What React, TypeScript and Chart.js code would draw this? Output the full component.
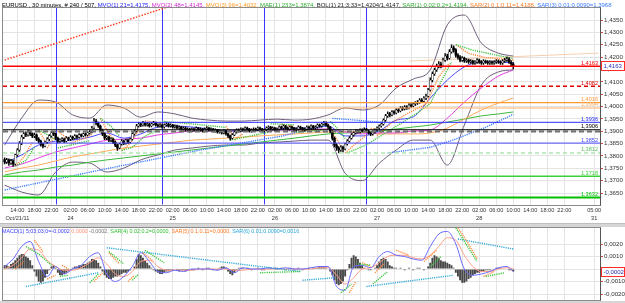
import React, { useEffect, useRef } from "react";
import { Chart, registerables } from "chart.js";

Chart.register(...registerables);

// ------------------------------------------------------------------ data
const FIRST_OPEN = 1.3785;
const LAST_BAR = 239;

const closes = [
  1.3776,1.3784,1.3772,1.3780,1.3768,1.3804,1.3824,1.3852,1.3876,1.3889,
  1.3885,1.3897,1.3889,1.3881,1.3885,1.3868,1.3860,1.3848,1.3840,1.3856,
  1.3868,1.3881,1.3893,1.3889,1.3872,1.3860,1.3864,1.3868,1.3860,1.3872,
  1.3868,1.3876,1.3872,1.3881,1.3876,1.3885,1.3881,1.3889,1.3885,1.3893,
  1.3897,1.3913,1.3941,1.3933,1.3921,1.3905,1.3889,1.3872,1.3876,1.3864,
  1.3868,1.3856,1.3844,1.3832,1.3848,1.3860,1.3852,1.3864,1.3856,1.3868,
  1.3889,1.3901,1.3921,1.3929,1.3925,1.3933,1.3925,1.3929,1.3921,1.3929,
  1.3933,1.3925,1.3921,1.3925,1.3917,1.3925,1.3929,1.3921,1.3925,1.3917,
  1.3921,1.3913,1.3917,1.3909,1.3913,1.3905,1.3909,1.3901,1.3909,1.3905,
  1.3913,1.3905,1.3909,1.3901,1.3909,1.3913,1.3905,1.3909,1.3901,1.3905,
  1.3897,1.3901,1.3893,1.3901,1.3889,1.3881,1.3872,1.3885,1.3897,1.3905,
  1.3901,1.3909,1.3905,1.3913,1.3909,1.3901,1.3905,1.3909,1.3905,1.3913,
  1.3909,1.3901,1.3905,1.3913,1.3917,1.3909,1.3913,1.3905,1.3909,1.3917,
  1.3913,1.3921,1.3913,1.3909,1.3917,1.3913,1.3905,1.3909,1.3917,1.3913,
  1.3905,1.3909,1.3917,1.3913,1.3921,1.3913,1.3917,1.3925,1.3921,1.3929,
  1.3933,1.3925,1.3917,1.3901,1.3872,1.3844,1.3832,1.3824,1.3836,1.3828,
  1.3848,1.3860,1.3872,1.3885,1.3893,1.3901,1.3897,1.3905,1.3901,1.3909,
  1.3901,1.3893,1.3889,1.3897,1.3905,1.3913,1.3921,1.3929,1.3945,1.3962,
  1.3970,1.3966,1.3978,1.3974,1.3986,1.3982,1.3994,1.3990,1.3998,1.3994,
  1.4006,1.4002,1.4010,1.4014,1.4018,1.4026,1.4022,1.4034,1.4042,1.4067,
  1.4107,1.4132,1.4148,1.4164,1.4172,1.4164,1.4188,1.4204,1.4196,1.4221,
  1.4237,1.4229,1.4208,1.4200,1.4188,1.4196,1.4184,1.4188,1.4180,1.4184,
  1.4176,1.4180,1.4188,1.4180,1.4176,1.4184,1.4180,1.4176,1.4180,1.4176,
  1.4180,1.4184,1.4180,1.4176,1.4184,1.4188,1.4192,1.4180,1.4172,1.4163,
];

const highs = [
  1.3792,1.3790,1.3788,1.3786,1.3784,1.3808,1.3830,1.3858,1.3884,1.3896,
  1.3898,1.3905,1.3902,1.3894,1.3892,1.3889,1.3874,1.3864,1.3852,1.3860,
  1.3874,1.3886,1.3900,1.3898,1.3892,1.3876,1.3870,1.3874,1.3872,1.3878,
  1.3876,1.3882,1.3880,1.3886,1.3884,1.3890,1.3889,1.3894,1.3893,1.3898,
  1.3903,1.3920,1.3952,1.3948,1.3937,1.3925,1.3909,1.3893,1.3882,1.3880,
  1.3874,1.3872,1.3860,1.3848,1.3852,1.3866,1.3864,1.3868,1.3868,1.3872,
  1.3894,1.3906,1.3928,1.3936,1.3934,1.3940,1.3937,1.3935,1.3933,1.3934,
  1.3940,1.3937,1.3930,1.3931,1.3929,1.3930,1.3935,1.3933,1.3930,1.3928,
  1.3926,1.3925,1.3922,1.3920,1.3918,1.3917,1.3914,1.3912,1.3914,1.3913,
  1.3918,1.3916,1.3914,1.3912,1.3914,1.3919,1.3916,1.3914,1.3912,1.3910,
  1.3908,1.3906,1.3904,1.3906,1.3904,1.3892,1.3884,1.3890,1.3902,1.3910,
  1.3910,1.3914,1.3913,1.3918,1.3917,1.3912,1.3910,1.3914,1.3913,1.3918,
  1.3917,1.3912,1.3910,1.3918,1.3922,1.3920,1.3918,1.3916,1.3914,1.3922,
  1.3921,1.3926,1.3924,1.3918,1.3922,1.3921,1.3916,1.3914,1.3922,1.3921,
  1.3916,1.3914,1.3922,1.3921,1.3926,1.3924,1.3922,1.3930,1.3929,1.3934,
  1.3940,1.3937,1.3929,1.3920,1.3904,1.3876,1.3850,1.3838,1.3842,1.3840,
  1.3852,1.3866,1.3878,1.3890,1.3898,1.3906,1.3906,1.3910,1.3910,1.3914,
  1.3912,1.3904,1.3897,1.3902,1.3910,1.3918,1.3926,1.3934,1.3950,1.3968,
  1.3978,1.3976,1.3984,1.3984,1.3992,1.3992,1.4000,1.4000,1.4004,1.4004,
  1.4012,1.4012,1.4016,1.4020,1.4024,1.4032,1.4032,1.4040,1.4050,1.4074,
  1.4116,1.4140,1.4156,1.4172,1.4182,1.4180,1.4196,1.4214,1.4212,1.4230,
  1.4250,1.4246,1.4234,1.4214,1.4206,1.4202,1.4200,1.4194,1.4192,1.4190,
  1.4188,1.4186,1.4194,1.4192,1.4186,1.4190,1.4188,1.4186,1.4186,1.4185,
  1.4186,1.4190,1.4189,1.4186,1.4190,1.4195,1.4200,1.4198,1.4186,1.4178,
];

const lows = [
  1.3768,1.3770,1.3762,1.3766,1.3758,1.3764,1.3798,1.3818,1.3846,1.3870,
  1.3878,1.3880,1.3882,1.3874,1.3874,1.3862,1.3852,1.3840,1.3832,1.3836,
  1.3850,1.3862,1.3876,1.3882,1.3866,1.3852,1.3854,1.3858,1.3854,1.3856,
  1.3862,1.3862,1.3866,1.3868,1.3870,1.3872,1.3876,1.3877,1.3880,1.3881,
  1.3888,1.3893,1.3910,1.3926,1.3915,1.3898,1.3882,1.3866,1.3866,1.3858,
  1.3858,1.3850,1.3838,1.3822,1.3828,1.3844,1.3846,1.3848,1.3850,1.3852,
  1.3864,1.3884,1.3896,1.3916,1.3918,1.3920,1.3920,1.3920,1.3916,1.3917,
  1.3924,1.3920,1.3916,1.3916,1.3912,1.3912,1.3920,1.3916,1.3916,1.3912,
  1.3912,1.3908,1.3908,1.3904,1.3904,1.3900,1.3900,1.3896,1.3897,1.3900,
  1.3901,1.3900,1.3900,1.3896,1.3897,1.3904,1.3900,1.3900,1.3896,1.3896,
  1.3892,1.3892,1.3888,1.3889,1.3884,1.3874,1.3864,1.3868,1.3882,1.3892,
  1.3896,1.3897,1.3900,1.3901,1.3904,1.3896,1.3896,1.3900,1.3900,1.3901,
  1.3904,1.3896,1.3896,1.3901,1.3908,1.3904,1.3904,1.3900,1.3900,1.3904,
  1.3908,1.3908,1.3908,1.3904,1.3904,1.3908,1.3900,1.3900,1.3904,1.3908,
  1.3900,1.3900,1.3904,1.3908,1.3908,1.3908,1.3908,1.3912,1.3916,1.3916,
  1.3924,1.3920,1.3910,1.3894,1.3864,1.3836,1.3822,1.3812,1.3818,1.3816,
  1.3824,1.3844,1.3856,1.3868,1.3880,1.3888,1.3892,1.3892,1.3896,1.3897,
  1.3896,1.3888,1.3882,1.3884,1.3892,1.3900,1.3908,1.3916,1.3924,1.3940,
  1.3956,1.3958,1.3962,1.3968,1.3970,1.3976,1.3978,1.3984,1.3986,1.3988,
  1.3990,1.3996,1.3998,1.4004,1.4008,1.4012,1.4016,1.4018,1.4028,1.4038,
  1.4062,1.4100,1.4126,1.4142,1.4156,1.4156,1.4160,1.4182,1.4188,1.4192,
  1.4216,1.4220,1.4200,1.4192,1.4180,1.4182,1.4178,1.4178,1.4174,1.4174,
  1.4170,1.4170,1.4174,1.4174,1.4170,1.4170,1.4174,1.4170,1.4170,1.4170,
  1.4170,1.4174,1.4174,1.4170,1.4170,1.4178,1.4182,1.4174,1.4162,1.4152,
];

// indicator lines, one value every 8 bars (last value = last bar)
const INDICATOR_STEP = 8;
const maBlue21 = [1.3771,1.3804,1.3844,1.3860,1.3864,1.3876,1.3893,1.3872,1.3889,1.3917,1.3921,1.3917,1.3909,1.3901,1.3901,1.3905,1.3909,1.3913,1.3913,1.3921,1.3881,1.3881,1.3901,1.3945,1.3958,1.4034,1.4107,1.4160,1.4180,1.4180,1.4176];
const maMagenta48 = [1.3751,1.3767,1.3792,1.3816,1.3832,1.3848,1.3864,1.3868,1.3872,1.3885,1.3893,1.3901,1.3901,1.3901,1.3905,1.3905,1.3905,1.3905,1.3909,1.3909,1.3897,1.3889,1.3893,1.3893,1.3901,1.3905,1.3953,1.4018,1.4075,1.4123,1.4148];
const maOrange96 = [1.3735,1.3751,1.3763,1.3780,1.3796,1.3808,1.3820,1.3832,1.3840,1.3848,1.3856,1.3864,1.3868,1.3872,1.3876,1.3881,1.3885,1.3889,1.3893,1.3897,1.3897,1.3897,1.3889,1.3889,1.3889,1.3893,1.3913,1.3949,1.3986,1.4014,1.4034];
const maeGreen233 = [1.3723,1.3735,1.3743,1.3755,1.3763,1.3775,1.3784,1.3792,1.3800,1.3808,1.3816,1.3824,1.3832,1.3840,1.3848,1.3856,1.3864,1.3872,1.3881,1.3889,1.3893,1.3897,1.3901,1.3909,1.3917,1.3925,1.3937,1.3949,1.3962,1.3970,1.3978];
const bbUpper = [1.3844,1.3953,1.4026,1.4018,1.3966,1.3953,1.4006,1.3994,1.3957,1.3978,1.3970,1.3953,1.3945,1.3941,1.3941,1.3945,1.3949,1.3945,1.3949,1.3966,1.3994,1.3986,1.4006,1.4075,1.4111,1.4148,1.4330,1.4370,1.4257,1.4216,1.4204];
const bbLower = [1.3682,1.3654,1.3642,1.3735,1.3775,1.3771,1.3735,1.3751,1.3784,1.3804,1.3824,1.3832,1.3840,1.3844,1.3844,1.3852,1.3856,1.3860,1.3864,1.3864,1.3730,1.3700,1.3770,1.3824,1.3864,1.3864,1.3763,1.3925,1.4087,1.4140,1.4148];

// parabolic SAR segments: [bar, price]
const sar1Segments = [
  [[5,1.3758],[10,1.3782],[14,1.3836]],
  [[16,1.3905],[20,1.3886],[24,1.3866]],
  [[25,1.3832],[32,1.3846],[40,1.3862]],
  [[45,1.3952],[50,1.3920],[54,1.3880]],
  [[55,1.3822],[60,1.3835],[66,1.3880],[72,1.3905]],
  [[74,1.3940],[90,1.3928],[104,1.3915]],
  [[106,1.3864],[115,1.3880],[124,1.3896]],
  [[125,1.3930],[136,1.3926]],
  [[137,1.3896],[150,1.3905]],
  [[153,1.3940],[156,1.3915],[160,1.3870]],
  [[161,1.3812],[170,1.3845],[178,1.3888],[186,1.3930],[194,1.3975],[200,1.4012],[205,1.4100],[210,1.4180]],
  [[212,1.4250],[220,1.4228],[230,1.4210],[239,1.4194]],
];
const sar2Segments = [
  [[5,1.3758],[9,1.3795],[13,1.3855]],
  [[16,1.3905],[19,1.3860]],
  [[20,1.3832],[23,1.3872]],
  [[25,1.3900],[30,1.3868]],
  [[31,1.3852],[38,1.3872],[41,1.3888]],
  [[45,1.3952],[49,1.3890],[53,1.3850]],
  [[55,1.3822],[59,1.3850],[63,1.3905]],
  [[66,1.3942],[74,1.3932]],
  [[104,1.3920],[107,1.3885]],
  [[108,1.3864],[112,1.3890]],
  [[130,1.3928],[136,1.3918]],
  [[138,1.3900],[146,1.3906]],
  [[151,1.3942],[155,1.3880],[158,1.3842]],
  [[160,1.3812],[165,1.3850],[170,1.3884]],
  [[172,1.3912],[174,1.3908]],
  [[175,1.3882],[182,1.3935],[190,1.3975],[198,1.4010],[204,1.4120],[209,1.4175]],
  [[212,1.4250],[218,1.4215],[226,1.4198],[239,1.4188]],
];
const sar3Segments = [
  [[0,1.3662],[46,1.3745],[92,1.3824],[130,1.3880],[152,1.3925]],
  [[154,1.3952],[165,1.3945],[178,1.3935]],
  [[180,1.3812],[200,1.3835],[210,1.3862],[225,1.3912],[239,1.3968]],
];

// hand-drawn objects
const levelPrices = [1.4163, 1.4082, 1.4016, 1.3994, 1.3936, 1.3906, 1.3899, 1.3852, 1.3812, 1.3718, 1.3632];
const trendRed = [[0, 1.4188], [82, 1.4418]];
const trendPeach = [[190, 1.4184], [279, 1.4216]];
const daySeparatorBars = [24, 74, 122, 170];
const lastPrice = 1.4163;

// MACD sub-window (values in pips = 0.0001)
const MACD_STEP = 4;
const macdHistPips = [
  3,3,2, 4,5,7,9,11,12,12,10,9,7, 3,-2,-6,-10,-11,-10,-7,-4,-1, 2,3,1,
  -3,-5,-5,-4,-3,-2,-1, 1,2,2,3,3,4,4, 5,6,8,8,7,5,
  2,-2,-5,-7,-8,-8,-7,-6,-6,-5,-4,-3,-3, -2,-1,0,2, 8,12,11,9,7,5,3,
  1,-1,-2,-3,-4,-4,-3,-2,-2,
  -1,-1,0,-1,-2,-1,-1,-2,-1,0,-1,-1,0,1,0,-1,0,1,1,0,-1,0,-1,
  1,2,2,1, -2,-4,-5,-3,-1,
  1,1,1,0,1,0,-1,0,0,1,0,-1,-1,0,1,1,0,1,1,0,1,0,-1,0,1,0,-1,0,1,0,-1,
  0,0,1,0,1,1,1,2,2,2,1,0,-2, -5,-9,-12,-13,-12,-10,-6,
  -1,4,9,11,10,8,5,3, 1,0,-1,-1,0,1, 3,6,8,9,8,6,
  3,2,1,1,0,1,0,-1,0,1,0,-1,0,1,1,0,-1,0,2,5,
  9,11,10,9,7, 6,6,5,4,3, 1,-3,-6,-9,-11,-11,-10,-8,-7,-5,
  -4,-3,-3,-2,-2,-1,-1,-1,0,0,1,1,1,0,0,0,-1,-1,-2,
];
const macdLinePips = [2,8,18,22,6,-6,2,-4,0,3,10,13,-4,-10,-6,2,13,6,-2,-3,-1,-2,0,0,0,-1,1,-3,1,0,0,1,0,1,0,0,1,2,2,-14,-17,2,3,1,10,14,11,10,8,7,18,28,30,20,0,-5,-4,-2,1,2,-2];
const macdSignalPips = [0,3,9,16,15,7,2,-1,-1,1,5,9,4,-4,-6,-2,6,7,2,-1,-1,-1,-1,0,0,0,0,-1,-1,0,0,0,0,0,0,0,0,1,1,-5,-12,-7,0,1,5,10,11,11,9,8,11,18,25,23,11,2,-2,-2,0,1,0];
const sar4Segments = [
  [[10,18],[16,12],[22,3]], [[26,-6],[30,-5]], [[40,-11],[44,-4]], [[49,14],[56,4]],
  [[60,-9],[63,-4]], [[66,15],[75,5]], [[120,-3],[139,-2]], [[158,-19],[163,-12]],
  [[166,4],[172,3]], [[173,-12],[180,-2]], [[200,2],[205,10]], [[212,33],[222,6]], [[226,-6],[235,-3]],
];
const sar5Segments = [
  [[5,0],[9,6]], [[14,23],[18,14]], [[20,-8],[24,-5]], [[27,3],[30,0]], [[42,-10],[46,-3]],
  [[49,13],[54,4]], [[58,-10],[61,-5]], [[65,13],[70,6]], [[162,-19],[165,-10]], [[168,5],[172,2]],
  [[174,-3],[178,4]], [[184,15],[190,11]], [[197,6],[203,15]], [[213,33],[218,20],[222,8]], [[225,-6],[230,-2]],
];
const sar6Segments = [
  [[10,-14],[44,-3]], [[48,17],[139,-2]], [[140,-9],[155,-7]], [[170,-14],[211,-5]], [[213,24],[239,16]],
];
const lastMacd = -0.0002;

// axis ticks
const timeTickBars = [6,14,22,31,39,47,55,63,71,79,87,95,103,111,119,127,135,143,151,159,167,175,183,191,199,207,215,223,231,239,247,255,263,277];
const timeLabels = [
  "14:00","18:00","22:00",
  "02:00","06:00","10:00","14:00","18:00","22:00",
  "02:00","06:00","10:00","14:00","18:00","22:00",
  "02:00","06:00","10:00","14:00","18:00","22:00",
  "02:00","06:00","10:00","14:00","18:00","22:00",
  "02:00","06:00","10:00","14:00","18:00","22:00",
  "05:00",
];
const dateLabels = ["Oct/21/11","","","24","","","","","","25","","","","","","26","","","","","","27","","","","","","28","","","","","","31"];
const priceTicks = [1.3650,1.3700,1.3750,1.3800,1.3850,1.3900,1.3950,1.4000,1.4050,1.4100,1.4150,1.4200,1.4250,1.4300,1.4350];
const macdTicks = [0.002, 0.001, 0, -0.001, -0.002];

const mainTitleParts = [
  ["EURUSD , 30 minutes, # 240 / 507, ", "#000000"],
  ["MVO(1) 21=1,4175, ", "#2323ff"],
  ["MVO(2) 48=1,4145, ", "#d22ad2"],
  ["MVO(3) 96=1,4032, ", "#ff9a22"],
  ["MAE(1) 233=1,3874, ", "#2fae2f"],
  ["BOL(1) 21;3;33=1,4204/1,4147, ", "#222222"],
  ["SAR(1) 0.02;0.2=1,4194, ", "#2fae2f"],
  ["SAR(2) 0.1;0.11=1,4188, ", "#ff7a22"],
  ["SAR(3) 0.01;0.0090=1,3968", "#3a78ff"],
];
const subTitleParts = [
  ["MACD(1) 5;03;03;0=-0,0002 ", "#3d3dff"],
  ["0,0000 ", "#ff8f7a"],
  ["-0,0002, ", "#777777"],
  ["SAR(4) 0.02;0.2=0,0000, ", "#2fbf2f"],
  ["SAR(5) 0.1;0.11=0,0000, ", "#ff7a22"],
  ["SAR(6) 0.01;0.0090=0,0016", "#2aa6d6"],
];

// ------------------------------------------------------------------ styling / helpers
const FONT = "'Liberation Sans', Arial, sans-serif";
const X_MIN = -0.75;
const X_MAX = 279.75;
const PIP = 0.0001;

const levelStyles: any[] = [
  { color: "#ff0000", width: 1.5, label: true },
  { color: "#e00000", width: 1.5, dash: [4, 3], label: true },
  { color: "#ff9933", width: 1.2, label: true },
  { color: "#ffae66", width: 1.2, label: true },
  { color: "#2b2bff", width: 1, label: true },
  { color: "#000000", width: 1, label: true },
  { color: "#707070", width: 2, dash: [5, 3], label: false },
  { color: "#4a4aff", width: 1, label: true },
  { color: "#aee6ae", width: 1.6, dash: [4, 3], label: true, textColor: "#5cc05c" },
  { color: "#3ccf3c", width: 1.6, label: true },
  { color: "#00c000", width: 2, label: true },
];

const fmt = (v: number) => (Math.abs(v) < 1e-9 ? 0 : v).toFixed(4).replace(".", ",");

const sampled = (values: number[], step: number, scale = 1) =>
  values.map((v, k) => ({ x: k === values.length - 1 ? LAST_BAR : k * step, y: v * scale }));

const lineDs = (data: any[], color: string, width: number, order: number, extra: any = {}) => ({
  type: "line",
  data,
  borderColor: color,
  borderWidth: width,
  pointRadius: 0,
  fill: false,
  cubicInterpolationMode: "monotone",
  order,
  ...extra,
});

const segDatasets = (segs: number[][][], color: string, order: number, scale = 1) =>
  segs.map((seg) =>
    lineDs(seg.map(([b, v]) => ({ x: b, y: v * scale })), color, 1.4, order, {
      borderDash: [1.2, 1.0],
      cubicInterpolationMode: "default",
    })
  );

function drawTitle(ctx: CanvasRenderingContext2D, parts: string[][], x0: number, baseline: number, targetWidth: number) {
  ctx.save();
  ctx.font = `10px ${FONT}`;
  const total = parts.reduce((s, p) => s + ctx.measureText(p[0]).width, 0);
  const size = (10 * targetWidth) / total;
  ctx.font = `${size}px ${FONT}`;
  ctx.textAlign = "left";
  ctx.textBaseline = "alphabetic";
  let x = x0;
  for (const [t, c] of parts) {
    ctx.fillStyle = c;
    ctx.fillText(t, x, baseline);
    x += ctx.measureText(t).width;
  }
  ctx.restore();
}

function drawFrame(ctx: CanvasRenderingContext2D, a: any) {
  ctx.save();
  ctx.strokeStyle = "#8a8a8a";
  ctx.lineWidth = 1;
  const l = Math.round(a.left) - 0.5;
  const t = Math.round(a.top) - 0.5;
  const r = Math.round(a.right) + 0.5;
  const b = Math.round(a.bottom) + 0.5;
  ctx.strokeRect(l, t, r - l, b - t);
  ctx.strokeStyle = "#555555";
  ctx.beginPath();
  ctx.moveTo(r, t);
  ctx.lineTo(r, b);
  ctx.stroke();
  ctx.restore();
}

function drawBoxLabel(ctx: CanvasRenderingContext2D, a: any, py: number, text: string) {
  ctx.save();
  const y0 = Math.round(py) - 4.5;
  ctx.fillStyle = "#ffffff";
  ctx.fillRect(a.right + 1, y0, 24, 9);
  ctx.strokeStyle = "#ff2a2a";
  ctx.lineWidth = 1;
  ctx.strokeRect(Math.round(a.right) + 1.5, y0, 23, 9);
  ctx.fillStyle = "#2a2ab8";
  ctx.font = `6px ${FONT}`;
  ctx.textAlign = "left";
  ctx.textBaseline = "middle";
  ctx.fillText(text, a.right + 3.5, y0 + 4.8);
  ctx.restore();
}

const xScale = (showLabels: boolean) => ({
  type: "linear",
  min: X_MIN,
  max: X_MAX,
  offset: false,
  position: "bottom",
  afterBuildTicks: (axis: any) => {
    axis.ticks = timeTickBars.map((v) => ({ value: v }));
  },
  ticks: showLabels
    ? {
        autoSkip: false,
        maxRotation: 0,
        minRotation: 0,
        padding: 2,
        color: "#333333",
        font: { family: FONT, size: 5.6, lineHeight: 1.4 },
        callback: (_v: any, i: number) => (dateLabels[i] ? [timeLabels[i], dateLabels[i]] : timeLabels[i]),
      }
    : { display: false },
  grid: { color: "#e4e4e4", lineWidth: 1, drawTicks: false, offset: false },
  border: { display: false },
  afterFit: (s: any) => {
    s.paddingLeft = 0;
    s.paddingRight = 0;
    s.height = showLabels ? 18.5 : 0;
  },
});

const yScale = (min: number, max: number, ticks: number[]) => ({
  type: "linear",
  position: "right",
  min,
  max,
  afterBuildTicks: (axis: any) => {
    axis.ticks = ticks.map((v) => ({ value: v }));
  },
  ticks: {
    color: "#333333",
    padding: 1,
    font: { family: FONT, size: 6.2 },
    callback: (v: any) => fmt(Number(v)),
  },
  grid: { color: "#e4e4e4", tickColor: "#e04848", tickLength: 3, drawTicks: true },
  border: { display: false },
  afterFit: (s: any) => {
    s.width = 25;
    s.paddingTop = 0;
    s.paddingBottom = 0;
  },
});

function buildMain(): any {
  const opens = closes.map((c, i) => (i === 0 ? FIRST_OPEN : closes[i - 1]));
  const datasets: any[] = [];

  levelPrices.forEach((p, i) => {
    const st = levelStyles[i];
    datasets.push(
      lineDs([{ x: X_MIN, y: p }, { x: X_MAX, y: p }], st.color, st.width, -1, {
        borderDash: st.dash || [],
        cubicInterpolationMode: "default",
      })
    );
  });

  const bull = closes.map((c, i) => c >= opens[i]);
  datasets.push({
    type: "bar",
    data: closes.map((c, i) => ({ x: i, y: [opens[i], c] })),
    backgroundColor: bull.map((b) => (b ? "#ffffff" : "#000000")),
    borderColor: "#000000",
    borderWidth: bull.map((b) => (b ? 0.5 : 0)),
    borderSkipped: false,
    barThickness: 1.8,
    minBarLength: 1,
    grouped: false,
    order: 0,
  });
  datasets.push({
    type: "bar",
    data: closes.map((_c, i) => ({ x: i, y: [lows[i], highs[i]] })),
    backgroundColor: "#000000",
    barThickness: 0.8,
    grouped: false,
    order: 1,
  });

  datasets.push(...segDatasets(sar1Segments, "#47c447", 3));
  datasets.push(...segDatasets(sar2Segments, "#ff8a3a", 3));
  datasets.push(...segDatasets(sar3Segments, "#3d7bff", 3));

  datasets.push(lineDs(sampled(maBlue21, INDICATOR_STEP), "#4b4bff", 1, 5));
  datasets.push(lineDs(sampled(maMagenta48, INDICATOR_STEP), "#e040e0", 1, 5));
  datasets.push(lineDs(sampled(maOrange96, INDICATOR_STEP), "#ffac5a", 1, 5));
  datasets.push(lineDs(sampled(maeGreen233, INDICATOR_STEP), "#3cb83c", 1, 5));
  datasets.push(lineDs(sampled(bbUpper, INDICATOR_STEP), "#6f5f7c", 1, 6));
  datasets.push(lineDs(sampled(bbLower, INDICATOR_STEP), "#6f5f7c", 1, 6));

  datasets.push(
    lineDs(trendRed.map(([b, v]) => ({ x: b, y: v })), "#ff3a1a", 1.4, 7, {
      borderDash: [1.5, 1.5],
      cubicInterpolationMode: "default",
    })
  );
  datasets.push(
    lineDs(trendPeach.map(([b, v]) => ({ x: b, y: v })), "#f6cfae", 1, 7, { cubicInterpolationMode: "default" })
  );

  const decor = {
    id: "mainDecor",
    beforeDatasetsDraw(chart: any) {
      const { ctx, chartArea: a, scales } = chart;
      ctx.save();
      ctx.strokeStyle = "#3a3aff";
      ctx.lineWidth = 1;
      daySeparatorBars.forEach((b) => {
        const px = Math.round(scales.x.getPixelForValue(b)) + 0.5;
        ctx.beginPath();
        ctx.moveTo(px, a.top);
        ctx.lineTo(px, a.bottom);
        ctx.stroke();
      });
      ctx.restore();
    },
    afterDraw(chart: any) {
      const { ctx, chartArea: a, scales } = chart;
      ctx.save();
      ctx.font = `5.6px ${FONT}`;
      ctx.textAlign = "right";
      ctx.textBaseline = "alphabetic";
      levelPrices.forEach((p, i) => {
        const st = levelStyles[i];
        if (!st.label) return;
        ctx.fillStyle = st.textColor || st.color;
        ctx.fillText(fmt(p), a.right - 2, scales.y.getPixelForValue(p) - 1.5);
      });
      ctx.restore();
      drawFrame(ctx, a);
      drawBoxLabel(ctx, a, scales.y.getPixelForValue(lastPrice), fmt(lastPrice));
      drawTitle(ctx, mainTitleParts, 2, 7, 611);
    },
  };

  return {
    type: "bar",
    data: { datasets },
    options: {
      responsive: false,
      maintainAspectRatio: false,
      animation: false,
      devicePixelRatio: 1,
      events: [],
      layout: { padding: { left: 3, top: 8, right: 0, bottom: 0 } },
      plugins: { legend: { display: false }, tooltip: { enabled: false } },
      scales: {
        x: xScale(true),
        y: yScale(1.36035, 1.43986, priceTicks),
      },
    },
    plugins: [decor],
  };
}

function buildSub(): any {
  const datasets: any[] = [];
  datasets.push(...segDatasets(sar4Segments, "#3cc83c", 0, PIP));
  datasets.push(...segDatasets(sar5Segments, "#ff8a3a", 0, PIP));
  datasets.push(...segDatasets(sar6Segments, "#33a9d8", 0, PIP));
  datasets.push(lineDs(sampled(macdLinePips, MACD_STEP, PIP), "#6a6aff", 1, 1));
  datasets.push(lineDs(sampled(macdSignalPips, MACD_STEP, PIP), "#ff9c84", 1, 1));
  datasets.push({
    type: "bar",
    data: macdHistPips.map((v, i) => ({ x: i, y: v * PIP })),
    backgroundColor: "#484848",
    barPercentage: 0.9,
    categoryPercentage: 1,
    grouped: false,
    order: 2,
  });

  const decor = {
    id: "subDecor",
    afterDraw(chart: any) {
      const { ctx, chartArea: a, scales } = chart;
      drawFrame(ctx, a);
      drawBoxLabel(ctx, a, scales.y.getPixelForValue(lastMacd), fmt(lastMacd));
      drawTitle(ctx, subTitleParts, 2, 5.5, 298);
    },
  };

  return {
    type: "bar",
    data: { datasets },
    options: {
      responsive: false,
      maintainAspectRatio: false,
      animation: false,
      devicePixelRatio: 1,
      events: [],
      layout: { padding: { left: 3, top: 1, right: 0, bottom: 3 } },
      plugins: { legend: { display: false }, tooltip: { enabled: false } },
      scales: {
        x: xScale(false),
        y: yScale(-0.00248, 0.00328, macdTicks),
      },
    },
    plugins: [decor],
  };
}

// ------------------------------------------------------------------ component
export default function App() {
  const mainRef = useRef<HTMLCanvasElement | null>(null);
  const subRef = useRef<HTMLCanvasElement | null>(null);

  useEffect(() => {
    const c1 = new Chart(mainRef.current as HTMLCanvasElement, buildMain());
    const c2 = new Chart(subRef.current as HTMLCanvasElement, buildSub());
    return () => {
      c1.destroy();
      c2.destroy();
    };
  }, []);

  return (
    <div style={{ position: "fixed", left: 0, top: 0, width: 625, height: 303, background: "#ffffff", overflow: "hidden" }}>
      <div style={{ position: "absolute", left: 0, top: 0, width: 625, height: 223 }}>
        <canvas ref={mainRef} width={625} height={223} style={{ display: "block", width: 625, height: 223 }} />
      </div>
      <div
        style={{
          position: "absolute",
          left: 0,
          top: 223,
          width: 625,
          height: 4,
          background: "#d6d6d6",
          borderTop: "1px solid #bdbdbd",
          boxSizing: "border-box",
        }}
      />
      <div style={{ position: "absolute", left: 0, top: 227, width: 625, height: 76 }}>
        <canvas ref={subRef} width={625} height={76} style={{ display: "block", width: 625, height: 76 }} />
      </div>
      <div style={{ position: "absolute", left: 0, top: 301, width: 625, height: 2, background: "#d6d6d6" }} />
    </div>
  );
}
